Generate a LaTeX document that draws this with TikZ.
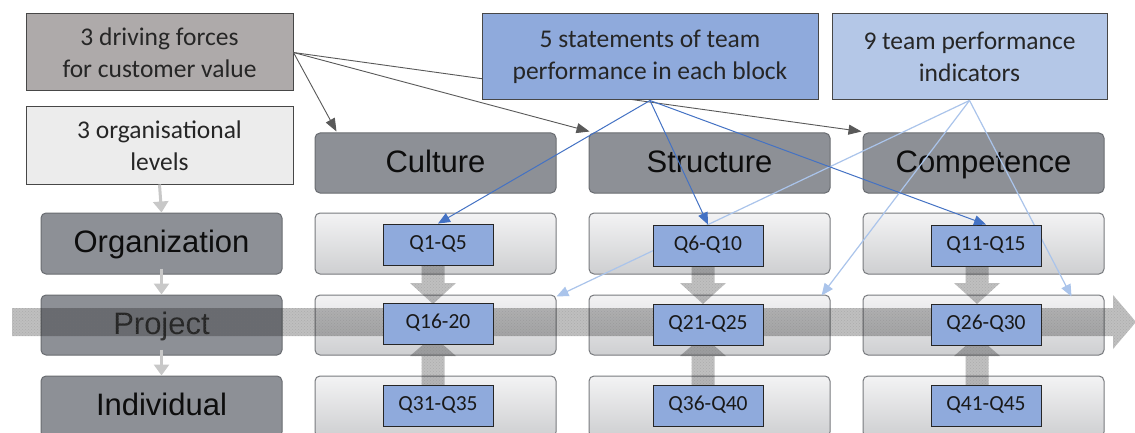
\documentclass[tikz,border=0pt]{standalone}
\usepackage{fontspec}
\newfontfamily\carlito{Carlito}
\newfontfamily\arialf{Liberation Sans}
\usetikzlibrary{arrows.meta,calc,patterns}
\definecolor{dfgray}{RGB}{174,170,170}
\definecolor{olgray}{RGB}{236,236,236}
\definecolor{stblue}{RGB}{143,170,220}
\definecolor{tiblue}{RGB}{180,199,231}
\definecolor{hdrfill}{RGB}{141,144,150}
\definecolor{hdrdraw}{RGB}{105,108,113}
\definecolor{celltop}{RGB}{243,243,244}
\definecolor{cellbot}{RGB}{206,207,209}
\definecolor{celldraw}{RGB}{120,122,126}
\definecolor{arrdark}{RGB}{89,89,89}
\definecolor{arrblue}{RGB}{68,114,196}
\definecolor{arrlight}{RGB}{170,196,235}
\definecolor{arrgray}{RGB}{200,200,200}
\definecolor{txtdark}{RGB}{38,38,38}
\tikzset{
  topbox/.style={draw=black!72, line width=1pt, inner sep=0pt, align=center,
    text=txtdark, font=\carlito\fontsize{25.5}{32}\selectfont},
  hdrbox/.style={draw=hdrdraw, fill=hdrfill, line width=1pt, rounded corners=5pt,
    minimum width=241pt, minimum height=60pt, inner sep=0pt, text=black!95,
    text height=21pt, text depth=3pt,
    font=\arialf\fontsize{31}{36}\selectfont},
  cellbox/.style={draw=celldraw, top color=celltop, bottom color=cellbot, line width=1pt,
    rounded corners=5pt, minimum width=241pt, minimum height=61pt, inner sep=0pt},
  qbox/.style={draw=black!85, fill=stblue, line width=0.9pt, minimum width=110pt,
    minimum height=41pt, inner sep=0pt, text=black!90, text height=13pt, text depth=3pt,
    font=\carlito\fontsize{21.5}{24}\selectfont},
  darkarrow/.style={draw=arrdark, line width=0.9pt, -{Triangle[length=13pt,width=10pt]}},
  bluearrow/.style={draw=arrblue, line width=1pt, -{Triangle[length=12pt,width=10pt]}},
  lightarrow/.style={draw=arrlight, line width=1.2pt, -{Triangle[length=12pt,width=10pt]}},
  grayarrow/.style={draw=arrgray, line width=3pt, -{Triangle[length=11pt,width=15pt]}},
  hatch/.style={fill=black, fill opacity=0.25,
    postaction={pattern=crosshatch dots, pattern color=black!55}},
}
\begin{document}
\begin{tikzpicture}[x=1pt,y=-1pt]
\useasboundingbox[fill=white] (0,0) rectangle (1135,433);
\begin{scope}
\clip (0,0) rectangle (1135,433);
% header and cell nodes
\node[hdrbox] (cul) at (435.5,163) {Culture};
\node[hdrbox] (stru) at (709.5,163) {Structure};
\node[hdrbox] (comp) at (983.5,163) {Competence};
\node[hdrbox, minimum height=61pt] (org) at (161.5,243.5) {Organization};
\node[hdrbox, text=black!80] (proj) at (161.5,325) {Project};
\node[hdrbox, minimum height=61pt] (ind) at (161.5,406.5) {Individual};
\foreach \c/\x in {1/435.5,2/709.5,3/983.5}{
  \node[cellbox] (c\c1) at (\x,243.5) {};
  \node[cellbox, minimum height=60pt] (c\c2) at (\x,325) {};
  \node[cellbox] (c\c3) at (\x,406.5) {};
}
% dark arrows from driving forces
\node[topbox, fill=dfgray, minimum width=267pt, minimum height=77pt] (df) at (159.5,52.5)
  {3 driving forces\\for customer value};
\draw[darkarrow] (df.east) -- ($(cul.north west)+(22,-1)$);
\draw[darkarrow] (df.east) -- ($(stru.north west)+(1,-1)$);
\draw[darkarrow] (df.east) -- ($(comp.north west)+(-1,-1)$);
% top boxes
\node[topbox, fill=olgray, minimum width=267pt, minimum height=77pt] (ol) at (159.5,145.5)
  {3 organisational\\levels};
\node[topbox, fill=stblue, minimum width=336pt, minimum height=86pt] (st) at (650,57)
  {5 statements of team\\performance in each block};
\node[topbox, fill=tiblue, minimum width=275pt, minimum height=86pt] (ti) at (969.5,57)
  {9 team performance\\indicators};
% big horizontal hatched arrow
\path[hatch] (12,308) -- (1113,308) -- (1113,295) -- (1136,322) -- (1113,349) -- (1113,336) -- (12,336) -- cycle;
% vertical hatched arrows
\foreach \xc in {433,703,977}{
  \path[hatch] (\xc-11.5,265) -- (\xc+11.5,265) -- (\xc+11.5,283) -- (\xc+23,283) -- (\xc,304)
     -- (\xc-23,283) -- (\xc-11.5,283) -- cycle;
  \path[hatch] (\xc-11.5,386) -- (\xc+11.5,386) -- (\xc+11.5,356) -- (\xc+23,356) -- (\xc,336)
     -- (\xc-23,356) -- (\xc-11.5,356) -- cycle;
}
% left column gray arrows
\draw[grayarrow] (ol.south) -- (org.north);
\draw[grayarrow] ($(org.south)+(0,-6)$) -- (proj.north);
\draw[grayarrow] ($(proj.south)+(0,-6)$) -- (ind.north);
% light blue arrows
\draw[lightarrow] (ti.south) -- ($(c12.north east)+(0,2)$);
\draw[lightarrow] (ti.south) -- ($(c22.north east)+(-9,1)$);
\draw[lightarrow] (ti.south) -- ($(c32.north east)+(-33,2)$);
% Q boxes
\node[qbox] (q1) at (438,244.5) {Q1-Q5};
\node[qbox] (q6) at (708,245.5) {Q6-Q10};
\node[qbox] (q11) at (986,245.5) {Q11-Q15};
\node[qbox] (q16) at (438,323.5) {Q16-20};
\node[qbox] (q21) at (708,324.5) {Q21-Q25};
\node[qbox] (q26) at (986,324.5) {Q26-Q30};
\node[qbox] (q31) at (438,405.5) {Q31-Q35};
\node[qbox] (q36) at (708,405.5) {Q36-Q40};
\node[qbox] (q41) at (986,405.5) {Q41-Q45};
% blue arrows
\draw[bluearrow] (st.south) -- (q1.north);
\draw[bluearrow] (st.south) -- (q6.north);
\draw[bluearrow] (st.south) -- (q11.north);
\end{scope}
\end{tikzpicture}
\end{document}
